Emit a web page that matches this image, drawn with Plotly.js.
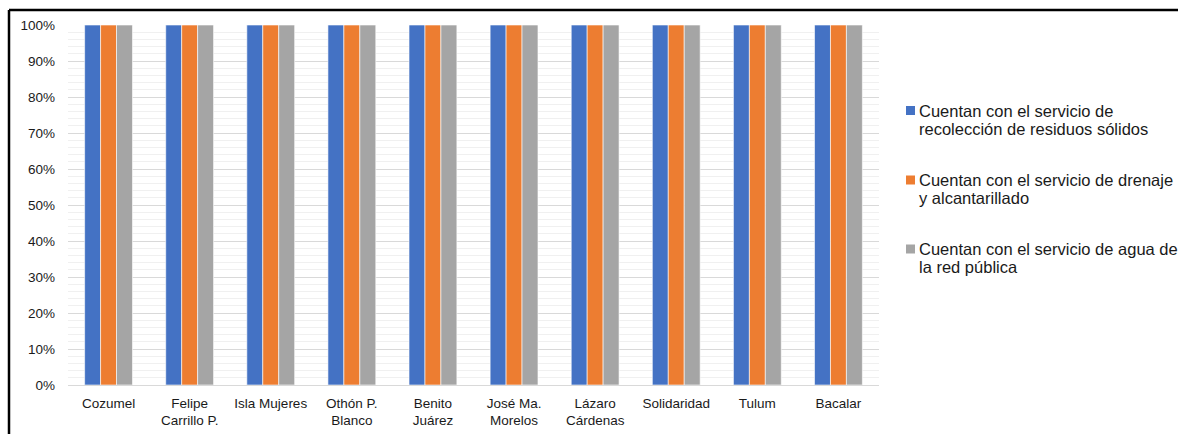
<!DOCTYPE html>
<html><head><meta charset="utf-8">
<script src="https://cdn.plot.ly/plotly-3.0.1.min.js"></script>
<style>body{margin:0;background:#fff}#chart{width:1178px;height:434px}</style>
</head><body><div id="chart"></div>
<script>
const categories = ["Cozumel","Felipe<br>Carrillo P.","Isla Mujeres","Othón P.<br>Blanco","Benito<br>Juárez","José Ma.<br>Morelos","Lázaro<br>Cárdenas","Solidaridad","Tulum","Bacalar"];
const seriesNames = ["Cuentan con el servicio de<br>recolección de residuos sólidos","Cuentan con el servicio de drenaje<br>y alcantarillado","Cuentan con el servicio de agua de<br>la red pública"];
const residuos = [1,1,1,1,1,1,1,1,1,1];
const drenaje = [1,1,1,1,1,1,1,1,1,1];
const agua = [1,1,1,1,1,1,1,1,1,1];
const colors = ["#4472c4","#ed7d31","#a5a5a5"];
const vals = [residuos, drenaje, agua];

const L=68, R=879, T=25, B=385, W=1178, H=434;
const pw=R-L, ph=B-T;
const px = x => (x-L)/pw, py = y => (B-y)/ph;

const traces = vals.map((v,i)=>({
  type:'bar', x:categories, y:v, name:seriesNames[i],
  marker:{color:colors[i], line:{color:'#ffffff', width:0.6}},
  hoverinfo:'none', showlegend:false
}));

// legend drawn as shapes + annotations for exact spacing
const legTop = [110.5, 180, 249];
const lineGap = 18.4;
const annotations = [];
const shapes = [
  {type:'line', xref:'paper', yref:'paper', x0:px(9), x1:px(W+5), y0:py(10), y1:py(10), line:{color:'#000', width:2.5}},
  {type:'line', xref:'paper', yref:'paper', x0:px(9), x1:px(9), y0:py(10), y1:py(H+5), line:{color:'#000', width:2.5}}
];
seriesNames.forEach((name,i)=>{
  const lines = name.split('<br>');
  lines.forEach((t,j)=>{
    annotations.push({xref:'paper', yref:'paper', x:px(917), y:py(legTop[i]+j*lineGap), xanchor:'left', yanchor:'middle',
      text:t, showarrow:false, font:{size:16.5, color:'#1a1a1a'}, align:'left'});
  });
  shapes.push({type:'rect', xref:'paper', yref:'paper', x0:px(906), x1:px(915), y0:py(legTop[i]-4.5), y1:py(legTop[i]+4.5),
    fillcolor:colors[i], line:{width:0}});
});

const layout = {
  width:W, height:H,
  margin:{l:L, r:W-R, t:T, b:H-B, pad:0},
  paper_bgcolor:'#fff', plot_bgcolor:'#fff',
  font:{family:'Liberation Sans, Arial, sans-serif', size:13.5, color:'#1a1a1a'},
  barmode:'group', bargap:0.41, bargroupgap:0,
  xaxis:{showgrid:false, zeroline:false, showline:false, ticks:'', tickangle:0,
         tickfont:{size:13.5}, ticklabelstandoff:8},
  yaxis:{range:[0,1], dtick:0.1, tickformat:'.0%', showgrid:true, gridcolor:'#d9d9d9', gridwidth:1,
         zeroline:true, zerolinecolor:'#d9d9d9', showline:false, ticks:'', ticklen:0,
         tickfont:{size:13.5}, ticklabelstandoff:12,
         minor:{dtick:0.02, showgrid:true, gridcolor:'#f0f0f0', gridwidth:1}},
  showlegend:false,
  annotations, shapes
};
Plotly.newPlot('chart', traces, layout, {staticPlot:true, displayModeBar:false});
</script></body></html>
